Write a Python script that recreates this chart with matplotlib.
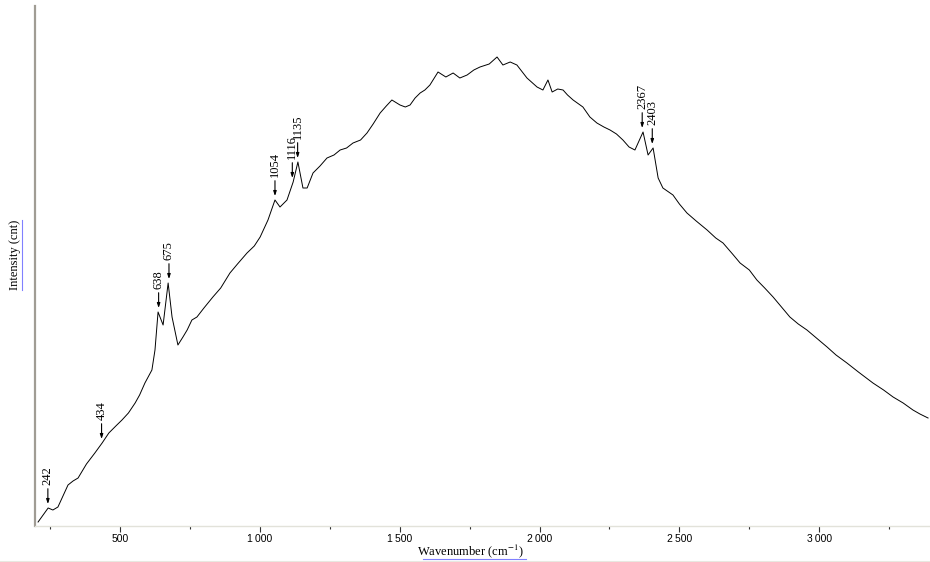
import matplotlib
matplotlib.use('Agg')
import matplotlib.pyplot as plt
from matplotlib.ticker import MultipleLocator, FuncFormatter
from matplotlib.lines import Line2D

plt.rcParams['mathtext.fontset'] = 'stix'

# spectrum (intensity in arbitrary counts)
wavenumber = [207, 225, 243, 260, 278, 296, 314, 332, 350, 380, 410, 436, 460, 485, 507,
              530, 554, 570, 589, 614, 625, 636, 654, 672,
              686, 707, 725, 740, 757, 775, 800, 832, 860, 893, 920, 954, 980, 1001, 1029,
              1054, 1072, 1097, 1119, 1136, 1154, 1169, 1190, 1215, 1240, 1265, 1287, 1310,
              1333, 1360, 1383, 1405, 1430, 1452, 1472, 1501, 1520,
              1537, 1555, 1573, 1590, 1608, 1637, 1665, 1691, 1715, 1741, 1765, 1787, 1820,
              1848, 1869, 1895, 1919, 1955, 1975, 1991,
              2012, 2030, 2045, 2065, 2084, 2100, 2120, 2155, 2180, 2205, 2230, 2252, 2275,
              2298, 2320, 2341, 2370, 2388,
              2406, 2424, 2441, 2477, 2500, 2527, 2560, 2599, 2630, 2656, 2690, 2717, 2750,
              2777, 2805, 2835, 2865, 2895, 2925, 2956,
              2990, 3028, 3060, 3099, 3140, 3192, 3230, 3264, 3300, 3335, 3360, 3389]
intensity = [4, 11, 18, 16, 19, 30, 41, 45, 48, 62, 73, 83, 93, 100, 106,
             113, 123, 131, 143, 156, 176, 214, 201, 243,
             209, 181, 189, 196, 206, 209, 218, 229, 238, 253, 262, 273, 280, 289, 306,
             326, 319, 326, 344, 364, 338, 338, 353, 360, 368, 371, 376, 378,
             383, 386, 393, 402, 413, 420, 426, 421, 419,
             421, 428, 433, 436, 441, 454, 449, 453, 448, 451, 456, 459, 462,
             469, 461, 464, 461, 448, 443, 439,
             436, 446, 434, 437, 436, 431, 426, 419, 409, 403, 399, 396, 392,
             386, 379, 376, 394, 371,
             378, 348, 338, 331, 322, 313, 305, 296, 288, 283, 272, 263, 256,
             246, 238, 229, 219, 209, 202, 196,
             188, 179, 171, 163, 154, 143, 136, 129, 123, 116, 112, 108]

peak_pos = [242, 434, 638, 675, 1054, 1116, 1135, 2367, 2403]
peak_int = [18, 83, 214, 243, 326, 344, 364, 394, 378]
peak_labels = ['242', '434', '638', '675', '1054', '1116', '1135', '2367', '2403']

fig = plt.figure(figsize=(9.3, 5.62), dpi=100)
ax = fig.add_axes([35 / 930, 36 / 562, 895 / 930, 520 / 562])

ax.plot(wavenumber, intensity, color='black', lw=0.7)

for p, i, lab in zip(peak_pos, peak_int, peak_labels):
    ax.annotate(lab, xy=(p, i + 4), xytext=(0, 14), textcoords='offset points',
                rotation=90, ha='center', va='bottom', family='Liberation Serif',
                fontsize=9,
                arrowprops=dict(arrowstyle='-|>,head_length=0.3,head_width=0.1',
                                color='black', lw=0.8, shrinkA=1, shrinkB=0))

ax.set_xlim(196, 3396)
ax.set_ylim(0, 520)

ax.spines['top'].set_visible(False)
ax.spines['right'].set_visible(False)
ax.spines['left'].set_color('#a09c94')
ax.spines['left'].set_linewidth(1.6)
ax.spines['bottom'].set_color('#e2e2da')
ax.spines['bottom'].set_linewidth(1.0)

ax.set_yticks([])
ax.xaxis.set_major_locator(MultipleLocator(500))
ax.xaxis.set_minor_locator(MultipleLocator(250))
ax.xaxis.set_major_formatter(FuncFormatter(
    lambda v, pos: f'{int(v):,}'.replace(',', '\u2009')))
ax.tick_params(axis='x', which='major', length=4, width=0.8, color='#303030',
               labelsize=7.5, pad=2)
ax.tick_params(axis='x', which='minor', length=2, width=0.8, color='#303030')
for t in ax.get_xticklabels():
    t.set_family('Liberation Sans')

fig.text(470 / 930, 1 - 551 / 562, 'Wavenumber (cm$^{-1}$)', ha='center', va='center',
         family='Liberation Serif', fontsize=9)
fig.text(15 / 930, 1 - 255 / 562, 'Intensity (cnt)', ha='center', va='center',
         rotation=90, family='Liberation Serif', fontsize=9)

# frame line at the bottom and blue underlines under the axis titles
fig.add_artist(Line2D([0, 1], [1 - 561 / 562] * 2, color='#e8e8e0', lw=0.8, zorder=0))
fig.add_artist(Line2D([423 / 930, 526 / 930], [1 - 559 / 562] * 2, color='#8080ff',
                      lw=0.8, zorder=5))
fig.add_artist(Line2D([21.5 / 930] * 2, [1 - 220 / 562, 1 - 290 / 562], color='#8080ff',
                      lw=0.8, zorder=5))

fig.savefig('out.png', dpi=100)
